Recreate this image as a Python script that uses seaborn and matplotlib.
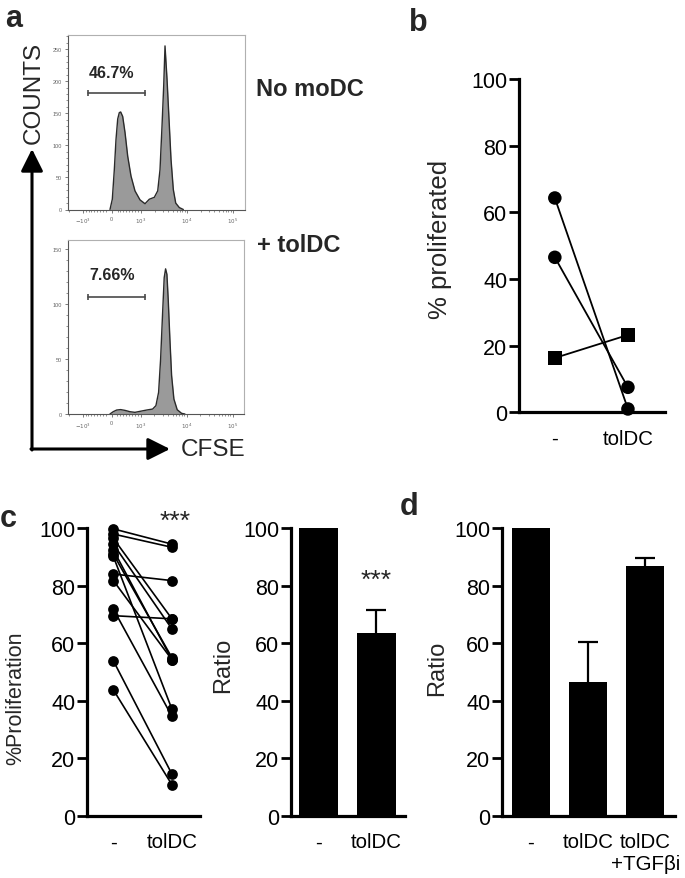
import matplotlib
matplotlib.use("Agg")
import matplotlib.pyplot as plt
import matplotlib.ticker as mticker
import pandas as pd
import seaborn as sns

W, H = 685, 879

# panel a: CFSE histograms (CFSE intensity, counts)
top_cfse = [-59, 21, 90, 148, 207, 262, 310, 379, 459, 552, 666, 803, 976, 1240, 1538,
            1976, 2342, 2627, 2904, 3162, 3375, 3733, 4122, 4557, 5115, 5768, 6906, 8433]
top_counts = [0, 16, 62, 109, 141, 151, 152, 145, 120, 83, 52, 29, 15, 9, 16,
              19, 29, 62, 130, 193, 255, 203, 141, 78, 31, 10, 3, 0]
bot_cfse = [-59, 55, 172, 310, 459, 631, 803, 976, 1350, 1824, 2152, 2462, 2722, 3009,
            3258, 3493, 3733, 3981, 4335, 4720, 5297, 6247, 7786, 9186]
bot_counts = [0, 2.1, 3.6, 4.0, 3.3, 2.1, 1.5, 2.4, 3.6, 4.5, 7.6, 19.7, 50, 92,
              124, 132, 127, 104.5, 68, 35, 13.6, 3.9, 0.6, 0]
gate_edges = [-807, 1240]
top_gate_pct = "46.7%"
bot_gate_pct = "7.66%"

# panel b
b_donors = ["d1", "d2", "d3"]
b_minus = [64.3, 46.5, 16.3]
b_toldc = [1.0, 7.5, 23.2]
b_shape = ["circle", "circle", "square"]
b_labels = ["-", "tolDC"]

# panel c
c_minus = [99.8, 98.0, 96.5, 94.5, 92.5, 91.0, 90.2, 84.1, 81.8, 71.9, 69.6, 53.9, 43.8]
c_toldc = [94.5, 93.4, 68.5, 65.0, 54.3, 55.0, 37.1, 81.8, 54.3, 34.6, 68.5, 14.5, 10.8]
c_labels = ["-", "tolDC"]
c_ratio = [100, 63.5]
c_ratio_err = [0, 8.2]

# panel d
d_labels = ["-", "tolDC", "tolDC\n+TGFβi"]
d_ratio = [100, 46.4, 86.8]
d_ratio_err = [0, 14.2, 3.0]

sns.set_theme(style="ticks")
plt.rcParams["font.family"] = ["Liberation Sans", "DejaVu Sans"]

TICK = 14.8


def add_axes_px(fig, left, top, right, bottom):
    return fig.add_axes([left / W, 1 - bottom / H, (right - left) / W, (bottom - top) / H])


def label_coords(ax, left, top, right, bottom, x, y):
    ax.yaxis.set_label_coords((x - left) / (right - left), (bottom - y) / (bottom - top))


def style_prism(ax):
    sns.despine(ax=ax)
    for side in ("left", "bottom"):
        ax.spines[side].set_linewidth(2.3)
        ax.spines[side].set_color("black")
    ax.tick_params(axis="y", length=7, width=2, pad=1.5, labelsize=TICK + 0.7, colors="black")
    ax.tick_params(axis="x", length=0, pad=12, labelsize=TICK, colors="black")
    ax.set_ylim(0, 100)
    ax.set_yticks(range(0, 101, 20))
    ax.set_xlabel("")


def draw_histogram(ax, cfse, counts, ymax, ymajor, gate_y, pct, pct_y):
    ax.set_xscale("symlog", linthresh=1000, linscale=0.567)
    ax.fill_between(cfse, counts, color="#9a9a9a", lw=0)
    sns.lineplot(x=cfse, y=counts, ax=ax, color="#2a2a2a", lw=1.0, sort=False, estimator=None)
    ax.plot(gate_edges, [gate_y, gate_y], color="#4a4a4a", lw=1.2, marker="|", ms=5, mew=1.2)
    ax.text(0, pct_y, pct, ha="center", va="center", fontsize=11.5, fontweight="bold")
    ax.set_xlim(-2056, 1.8e5)
    ax.set_ylim(0, ymax)
    ax.set_xticks([-1000, 0, 1000, 1e4, 1e5])
    ax.set_xticklabels([r"$-10^3$", "0", r"$10^3$", r"$10^4$", r"$10^5$"])
    ax.xaxis.set_minor_locator(mticker.SymmetricalLogLocator(linthresh=1000, base=10, subs=range(2, 10)))
    ax.yaxis.set_major_locator(mticker.MultipleLocator(ymajor))
    ax.yaxis.set_minor_locator(mticker.MultipleLocator(10))
    ax.tick_params(which="major", length=2.5, width=0.6, labelsize=4, colors="#666666", pad=2)
    ax.tick_params(which="minor", length=1.5, width=0.5, colors="#666666")
    for side in ("top", "right"):
        ax.spines[side].set_color("#b0b0b0")
        ax.spines[side].set_linewidth(0.8)
    for side in ("left", "bottom"):
        ax.spines[side].set_color("#555555")
        ax.spines[side].set_linewidth(0.8)
    ax.set_xlabel("")
    ax.set_ylabel("")


def draw_bars(ax, labels, values, errs):
    sns.barplot(x=labels, y=values, ax=ax, color="black", saturation=1, width=0.67,
                errorbar=None, linewidth=0)
    pos = [i for i, e in enumerate(errs) if e > 0]
    _, caps, _ = ax.errorbar(pos, [values[i] for i in pos], yerr=[[0] * len(pos), [errs[i] for i in pos]],
                             fmt="none", ecolor="black", elinewidth=1.6, capsize=7, capthick=1.6)
    caps[0].set_visible(False)  # only the upper cap, as in the reference


fig = plt.figure(figsize=(W / 100, H / 100), dpi=100)

# overlay for arrows, panel letters and free text (pixel coordinates)
ov = fig.add_axes([0, 0, 1, 1])
ov.set_xlim(0, W)
ov.set_ylim(H, 0)
ov.axis("off")
arrow = dict(arrowstyle="-|>,head_length=0.9,head_width=0.45", lw=2.2, color="black",
             shrinkA=0, shrinkB=0, mutation_scale=15)
ov.annotate("", xy=(32, 150), xytext=(32, 451), arrowprops=arrow)
ov.annotate("", xy=(170, 450), xytext=(31, 450), arrowprops=arrow)
ov.text(34, 93, "COUNTS", rotation=90, ha="center", va="center", fontsize=17.5)
ov.text(181, 450, "CFSE", ha="left", va="center", fontsize=17.5)
ov.text(256, 89, "No moDC", ha="left", va="center", fontsize=17, fontweight="bold")
ov.text(257, 246, "+ tolDC", ha="left", va="center", fontsize=17, fontweight="bold")
for letter, x, y in [("a", 5, 27), ("b", 409, 31), ("c", 0, 527), ("d", 400, 515)]:
    ov.text(x, y, letter, ha="left", va="baseline", fontsize=22, fontweight="bold")

# panel a
ax_top = add_axes_px(fig, 68.3, 36, 244.5, 210.5)
draw_histogram(ax_top, top_cfse, top_counts, 272, 50, 182, top_gate_pct, 213)
ax_bot = add_axes_px(fig, 68.3, 240.7, 244.3, 415)
draw_histogram(ax_bot, bot_cfse, bot_counts, 158.5, 50, 106.6, bot_gate_pct, 127)

# panel b
box_b = (519, 80, 665, 413.3)
ax_b = add_axes_px(fig, *box_b)
df_b = pd.DataFrame({
    "donor": b_donors * 2,
    "shape": b_shape * 2,
    "pos": [0] * 3 + [1] * 3,
    "value": b_minus + b_toldc,
})
sns.lineplot(data=df_b, x="pos", y="value", units="donor", estimator=None, color="black", lw=1.3, ax=ax_b)
sns.scatterplot(data=df_b, x="pos", y="value", style="shape", markers={"circle": "o", "square": "s"},
                color="black", s=95, edgecolor="black", linewidth=0, legend=False, ax=ax_b, clip_on=False, zorder=3)
style_prism(ax_b)
ax_b.set_xlim(-0.49, 1.507)
ax_b.set_xticks([0, 1])
ax_b.set_xticklabels(b_labels)
ax_b.set_ylabel("% proliferated", fontsize=18.5, va="center")
label_coords(ax_b, *box_b, 440, 239)

# panel c, paired proliferation
box_c1 = (87, 529.3, 200, 816.7)
ax_c1 = add_axes_px(fig, *box_c1)
n = len(c_minus)
df_c = pd.DataFrame({
    "sample": list(range(n)) * 2,
    "pos": [0] * n + [1] * n,
    "value": c_minus + c_toldc,
})
sns.lineplot(data=df_c, x="pos", y="value", units="sample", estimator=None, color="black", lw=1.2, ax=ax_c1)
sns.scatterplot(data=df_c, x="pos", y="value", color="black", s=60, linewidth=0, ax=ax_c1, clip_on=False, zorder=3)
style_prism(ax_c1)
ax_c1.set_xlim(-0.45, 1.48)
ax_c1.set_xticks([0, 1])
ax_c1.set_xticklabels(c_labels)
ax_c1.set_ylabel("%Proliferation", fontsize=15.5, va="center")
label_coords(ax_c1, *box_c1, 16, 698)
ax_c1.text(1.05, 102.5, "***", ha="center", va="center", fontsize=19)

# panel c, ratio
box_c2 = (291, 529.3, 405, 816.7)
ax_c2 = add_axes_px(fig, *box_c2)
draw_bars(ax_c2, c_labels, c_ratio, c_ratio_err)
style_prism(ax_c2)
ax_c2.set_xlim(-0.47, 1.497)
ax_c2.set_ylabel("Ratio", fontsize=17, va="center")
label_coords(ax_c2, *box_c2, 223, 665)
ax_c2.text(1, 82, "***", ha="center", va="center", fontsize=19)

# panel d
box_d = (502.3, 529.3, 675, 816.7)
ax_d = add_axes_px(fig, *box_d)
draw_bars(ax_d, d_labels, d_ratio, d_ratio_err)
style_prism(ax_d)
ax_d.set_xlim(-0.5, 2.52)
ax_d.set_ylabel("Ratio", fontsize=17, va="center")
label_coords(ax_d, *box_d, 437, 668)

fig.savefig("out.png", dpi=100)
